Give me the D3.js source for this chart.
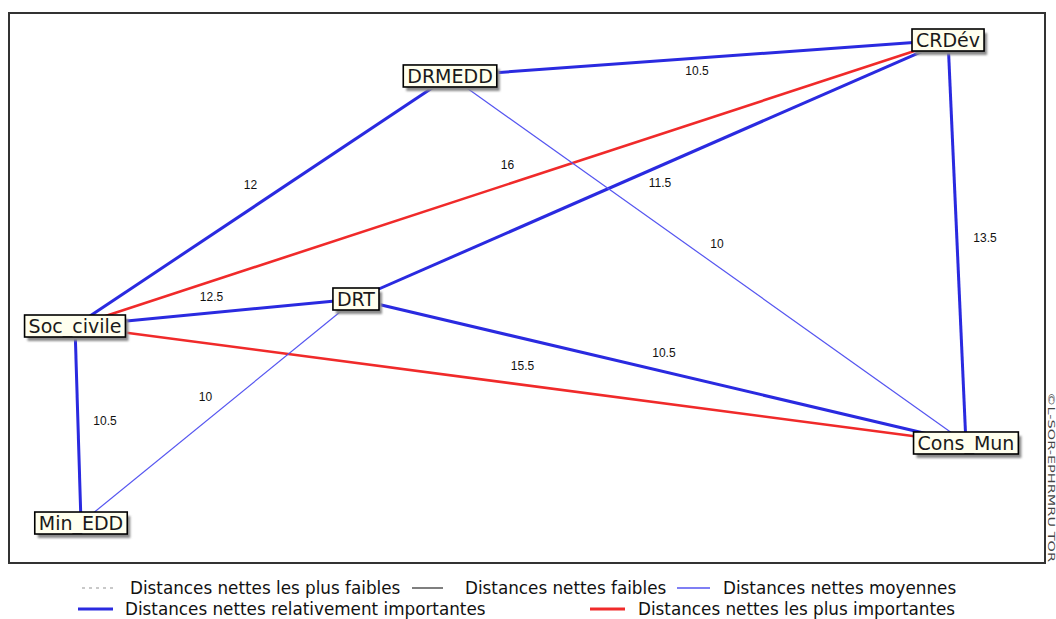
<!DOCTYPE html>
<html>
<head>
<meta charset="utf-8">
<script src="https://cdn.jsdelivr.net/npm/d3@7"></script>
<style>
  html, body { margin: 0; padding: 0; background: #fff; }
  svg { display: block; }
</style>
</head>
<body>
<svg id="chart" width="1056" height="619"></svg>
<script>
// ---------- DATA ----------
const nodeNames = ["DRMEDD", "CRDév", "Soc_civile", "DRT", "Min_EDD", "Cons_Mun"];
// layout coordinates (0-100 units) of each node as laid out by the source software
const nodeX = [42.57, 90.64, 6.37, 33.49, 6.95, 92.37];
const nodeY = [11.45, 4.91, 56.91, 52.0, 92.73, 78.18];

const edgeSource = ["Soc_civile", "Soc_civile", "DRMEDD", "DRT", "DRMEDD", "CRDév", "Soc_civile", "DRT", "Soc_civile", "DRT", "Soc_civile"];
const edgeTarget = ["DRMEDD", "CRDév", "CRDév", "CRDév", "Cons_Mun", "Cons_Mun", "DRT", "Cons_Mun", "Cons_Mun", "Min_EDD", "Min_EDD"];
const edgeValue  = [12, 16, 10.5, 11.5, 10, 13.5, 12.5, 10.5, 15.5, 10, 10.5];

const legendLabels = [
  "Distances nettes les plus faibles",
  "Distances nettes faibles",
  "Distances nettes moyennes",
  "Distances nettes relativement importantes",
  "Distances nettes les plus importantes"
];
const copyrightText = "©L-SOR-EPHRMRU TOR";

// ---------- LAYOUT / STYLE ----------
const frame = { x0: 9, y0: 13, x1: 1045, y1: 563 };
const labelOffsets = [[-12,-16],[-4,-18],[-2,13],[8,13],[9,-15],[28,-3],[-4,-16],[3,-18],[2,-18],[-13,-14],[27,-4]];
const styles = [
  { stroke: "#b8b8b8", width: 1.2, dash: "3,4" },
  { stroke: "#555555", width: 1.2, dash: null },
  { stroke: "#5555f0", width: 1.2, dash: null },
  { stroke: "#2a2ae0", width: 3, dash: null },
  { stroke: "#f02a2a", width: 2.6, dash: null }
];
function styleIndex(v) {
  if (v < 10.25) return 2;
  if (v < 15) return 3;
  return 4;
}

const svg = d3.select("#chart");
const x = d3.scaleLinear().domain([0, 100]).range([frame.x0, frame.x1]);
const y = d3.scaleLinear().domain([0, 100]).range([frame.y0, frame.y1]);

const defs = svg.append("defs");
const f = defs.append("filter").attr("id", "blur").attr("x", "-20%").attr("y", "-20%").attr("width", "140%").attr("height", "140%");
f.append("feGaussianBlur").attr("stdDeviation", 1.2);

// frame
svg.append("rect")
  .attr("x", frame.x0).attr("y", frame.y0)
  .attr("width", frame.x1 - frame.x0).attr("height", frame.y1 - frame.y0)
  .attr("fill", "#fff").attr("stroke", "#333").attr("stroke-width", 2);

const nodes = nodeNames.map((n, i) => ({ name: n, x: x(nodeX[i]), y: y(nodeY[i]) }));
const byName = Object.fromEntries(nodes.map(n => [n.name, n]));
const edges = edgeSource.map((s, i) => ({
  s: byName[s], t: byName[edgeTarget[i]], v: edgeValue[i], st: styles[styleIndex(edgeValue[i])], off: labelOffsets[i]
}));

// edges
svg.append("g").selectAll("line").data(edges).join("line")
  .attr("x1", d => d.s.x).attr("y1", d => d.s.y)
  .attr("x2", d => d.t.x).attr("y2", d => d.t.y)
  .attr("stroke", d => d.st.stroke)
  .attr("stroke-width", d => d.st.width)
  .attr("stroke-dasharray", d => d.st.dash);

// edge labels
svg.append("g").selectAll("text").data(edges).join("text")
  .attr("x", d => (d.s.x + d.t.x) / 2 + d.off[0])
  .attr("y", d => (d.s.y + d.t.y) / 2 + d.off[1])
  .attr("text-anchor", "middle").attr("dominant-baseline", "central")
  .attr("font-family", "Liberation Sans, Arial, sans-serif").attr("font-size", 12)
  .attr("fill", "#111")
  .text(d => d3.format(".1~f")(d.v));

// node boxes
const ng = svg.append("g").selectAll("g").data(nodes).join("g")
  .attr("transform", d => `translate(${d.x},${d.y})`);
ng.each(function(d) {
  const g = d3.select(this);
  const shadow = g.append("rect");
  const box = g.append("rect");
  const t = g.append("text")
    .attr("text-anchor", "middle").attr("dominant-baseline", "central")
    .attr("font-family", "DejaVu Sans, sans-serif").attr("font-size", 19)
    .attr("fill", "#1a1a1a").attr("y", 0)
    .text(d.name);
  const w = t.node().getComputedTextLength() + 8;
  const h = 22;
  shadow.attr("x", -w / 2 + 3).attr("y", -h / 2 + 4).attr("width", w).attr("height", h)
    .attr("fill", "#8a8a8a").attr("filter", "url(#blur)");
  box.attr("x", -w / 2).attr("y", -h / 2).attr("width", w).attr("height", h)
    .attr("fill", "#ffffee").attr("stroke", "#000").attr("stroke-width", 1.6);
});

// copyright vertical text
svg.append("text")
  .attr("transform", "translate(1055,392) rotate(90)")
  .attr("font-family", "DejaVu Sans, sans-serif").attr("font-size", 9.5)
  .attr("fill", "#444").attr("dominant-baseline", "hanging")
  .attr("textLength", 170).attr("lengthAdjust", "spacingAndGlyphs")
  .text(copyrightText);

// legend
const legendPos = [
  { lx0: 82, lx1: 113, ly: 588, tx: 130 },
  { lx0: 412, lx1: 443, ly: 588, tx: 465 },
  { lx0: 677, lx1: 710, ly: 588, tx: 723 },
  { lx0: 78, lx1: 113, ly: 609, tx: 125 },
  { lx0: 590, lx1: 625, ly: 609, tx: 638 }
];
const lg = svg.append("g").selectAll("g").data(legendLabels).join("g");
lg.append("line")
  .attr("x1", (d, i) => legendPos[i].lx0).attr("x2", (d, i) => legendPos[i].lx1)
  .attr("y1", (d, i) => legendPos[i].ly).attr("y2", (d, i) => legendPos[i].ly)
  .attr("stroke", (d, i) => styles[i].stroke)
  .attr("stroke-width", (d, i) => i >= 3 ? 3 : 1.5)
  .attr("stroke-dasharray", (d, i) => styles[i].dash);
lg.append("text")
  .attr("x", (d, i) => legendPos[i].tx).attr("y", (d, i) => legendPos[i].ly + 6)
  .attr("font-family", "DejaVu Sans, sans-serif").attr("font-size", 16.8)
  .attr("fill", "#111")
  .text(d => d);
</script>
</body>
</html>
